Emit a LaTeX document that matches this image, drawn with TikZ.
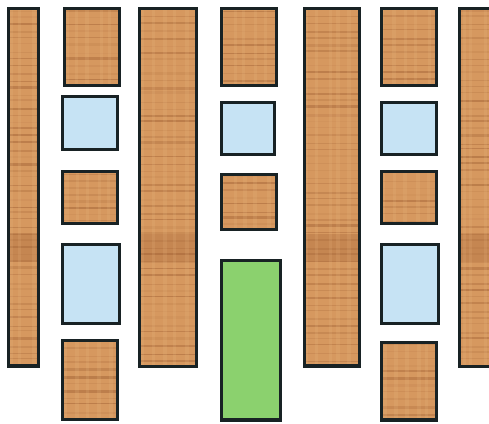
\documentclass[tikz,border=0pt]{standalone}
\usepackage{xcolor}
\usepackage{tikz}
\usetikzlibrary{calc}

\definecolor{woodBase}{HTML}{D6985F}
\definecolor{woodDark}{HTML}{94542A}
\definecolor{woodLight}{HTML}{F2C590}
\definecolor{glassBlue}{HTML}{C6E3F4}
\definecolor{leafGreen}{HTML}{8BD16E}
\definecolor{frameDark}{HTML}{182224}

% wooden panel with a rough grain, clipped to its box
\newcommand{\woodbox}[4]{%
  \begin{scope}
    \clip (#1,#2) rectangle (#3,#4);
    \fill[woodBase] (#1,#2) rectangle (#3,#4);
    \fill[woodDark, opacity=0.25] (#1,234) rectangle (#3,262);
    \foreach \k in {0,...,55} {
      \pgfmathsetmacro\gy{#2+7*\k+3*rnd}
      \pgfmathsetmacro\op{0.05+0.35*rnd}
      \pgfmathsetmacro\lw{0.6+1.6*rnd}
      \draw[woodDark, opacity=\op, line width=\lw pt] (#1,\gy) -- (#3,\gy);
    }
    \foreach \k in {0,...,5} {
      \pgfmathsetmacro\gx{#1+11*\k+5*rnd}
      \draw[woodLight, opacity=0.14, line width=3pt] (\gx,#2) -- (\gx,#4);
    }
  \end{scope}
  \draw[panelFrame] (#1,#2) rectangle (#3,#4);
}

\begin{document}
\begin{tikzpicture}[
  x=0.03cm, y=-0.03cm,
  panelFrame/.style={draw=frameDark, line width=2.6pt, line join=miter},
  glassPane/.style={panelFrame, fill=glassBlue},
  greenPane/.style={panelFrame, fill=leafGreen}
]
  \pgfmathsetseed{7}
  \useasboundingbox (0,0) rectangle (489,423);
  \clip (0,0) rectangle (489,423);

  % === Tall columns ===
  \woodbox{8.5}{8.5}{38.5}{366}
  \woodbox{139.5}{8.5}{196.5}{366.5}
  \woodbox{304.5}{8.5}{359.5}{366}
  \woodbox{459.5}{8.5}{500}{366.5}

  % === Second column ===
  \woodbox{64.5}{8.5}{119.5}{85.5}
  \draw[glassPane] (62.5,96.5) rectangle (117.5,149.5);
  \woodbox{62.5}{171.5}{117.5}{223.5}
  \draw[glassPane] (62.5,244.5) rectangle (119.5,323.5);
  \woodbox{62.5}{340.5}{117.5}{419.5}

  % === Middle column ===
  \woodbox{221.5}{8.5}{276.5}{85.5}
  \draw[glassPane] (221.5,102.5) rectangle (274.5,154.5);
  \woodbox{221.5}{174.5}{276.5}{229.5}
  \draw[greenPane] (221.5,260.5) rectangle (280.5,420);

  % === Sixth column ===
  \woodbox{381.5}{8.5}{436.5}{85.5}
  \draw[glassPane] (381.5,102.5) rectangle (436.5,154.5);
  \woodbox{381.5}{171.5}{436.5}{223.5}
  \draw[glassPane] (381.5,244.5) rectangle (438.5,323.5);
  \woodbox{381.5}{342.5}{436.5}{420}
\end{tikzpicture}
\end{document}
